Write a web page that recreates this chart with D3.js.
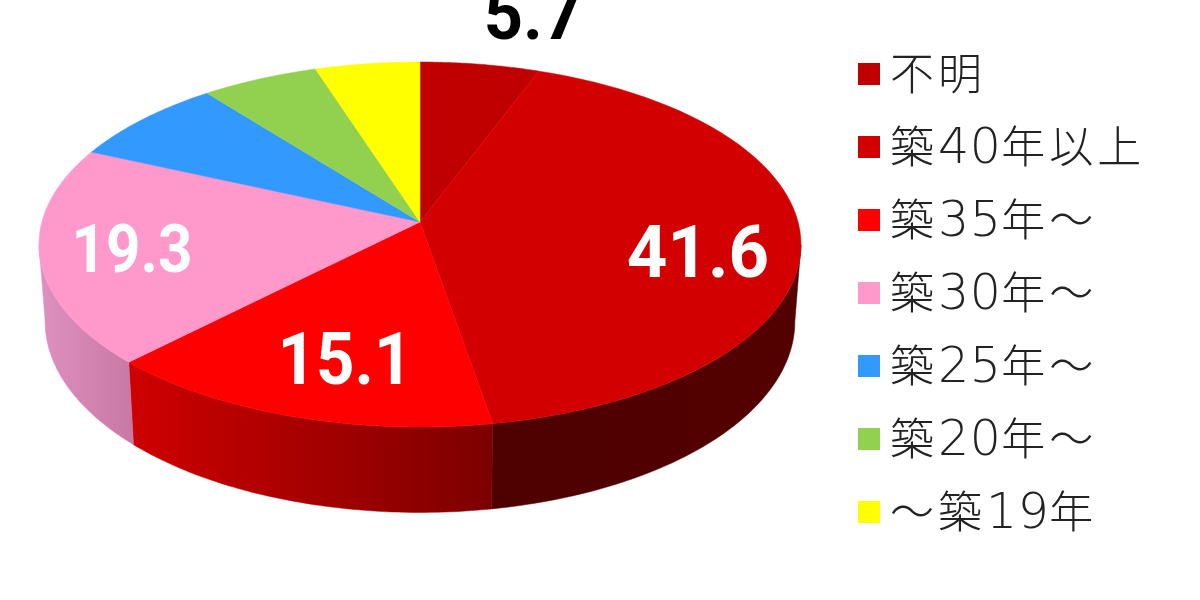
<!DOCTYPE html>
<html><head><meta charset="utf-8">
<style>html,body{margin:0;padding:0;background:#fff;overflow:hidden}svg{display:block}</style>
<script src="https://cdn.jsdelivr.net/npm/d3@7"></script></head><body>
<svg id="c" width="1200" height="600"></svg>
<script>
const categories=["不明","築40年以上","築35年～","築30年～","築25年～","築20年～","～築19年"];
const values=[5.7,41.6,15.1,19.3,7.7,5.6,5.0];
const labels=["5.7","41.6","15.1","19.3","","",""];
const colors=["#c00000","#d20000","#ff0000","#ff99cc","#3399ff","#92d050","#ffff00"];
const wallStops=[null,[["0","#4f0000"],["1","#530000"]],[["0","#cf0000"],["1","#7c0000"]],[["0","#de90bf"],["1","#c878a4"]],null,null,null];
const labelX=[533,698,345,132];
const labelY=[39,277,384,272];
const labelFill=["#000","#fff","#fff","#fff"];
const labelSize=[73,73,73,66];
const labelStretch=[0.94,0.97,0.92,0.91];

const svg=d3.select("#c");
const defs=svg.append("defs");
defs.append("filter").attr("id","soft").append("feGaussianBlur").attr("stdDeviation",0.6);
const k=0.1233;
const upper={cx:420,cy:222,a:378.1,b:179.7};
const lower={cx:420,cy:298,a:372,b:188};
const proj=(p,t)=>{const u=Math.sin(t),v=-Math.cos(t),w=1-k*v;return [p.cx+p.a*u/w,p.cy+p.b*v/w];};
const arcs=d3.pie().sort(null)(values);
const sample=(p,t0,t1)=>d3.range(0,61).map(i=>proj(p,t0+(t1-t0)*i/60));
const line=d3.line();
const limit=Math.acos(-k);
const g=svg.append("g").attr("filter","url(#soft)");

arcs.forEach((d,i)=>{
  if(!wallStops[i])return;
  const t0=Math.max(d.startAngle,limit),t1=Math.min(d.endAngle,2*Math.PI-limit);
  if(t1<=t0)return;
  const up=sample(upper,t0,t1),dn=sample(lower,t0,t1).reverse();
  const xs=up.concat(dn).map(q=>q[0]);
  const id="w"+i;
  const lg=defs.append("linearGradient").attr("id",id).attr("gradientUnits","userSpaceOnUse")
    .attr("x1",d3.min(xs)).attr("x2",d3.max(xs)).attr("y1",0).attr("y2",0);
  wallStops[i].forEach(s=>lg.append("stop").attr("offset",s[0]).attr("stop-color",s[1]));
  g.append("path").attr("d",line(up.concat(dn))+"Z").attr("fill",`url(#${id})`)
   .attr("stroke",`url(#${id})`).attr("stroke-width",0.5);
});
arcs.forEach((d,i)=>{
  const pts=[[upper.cx,upper.cy]].concat(sample(upper,d.startAngle,d.endAngle));
  g.append("path").attr("d",line(pts)+"Z").attr("fill",colors[i]).attr("stroke",colors[i]).attr("stroke-width",0.5);
});
const font="'Roboto','Liberation Sans',sans-serif";
labels.forEach((t,i)=>{
  if(!t)return;
  g.append("text").attr("transform",`translate(${labelX[i]},${labelY[i]}) scale(${labelStretch[i]},1)`)
   .attr("text-anchor","middle").attr("font-family",font).attr("font-weight",700)
   .attr("font-size",labelSize[i]).attr("fill",labelFill[i]).text(t);
});
const ly=d3.scalePoint().domain(categories).range([74,512]);
categories.forEach((c,i)=>{
  const y=ly(c);
  g.append("rect").attr("x",858).attr("y",y-11).attr("width",22).attr("height",22).attr("fill",colors[i]);
  const tx=g.append("text").attr("x",890).attr("y",y+16).attr("font-family","'Noto Sans CJK JP'").attr("font-weight",200)
   .attr("font-size",44).attr("fill","#222");
  c.match(/\d+|\D+/g).forEach(run=>{
    const digits=/\d/.test(run);
    const s=tx.append("tspan").attr("letter-spacing",digits?0.5:4).text(run);
    if(digits)s.attr("font-family","'DejaVu Sans Light','DejaVu Sans'").attr("font-weight",200).attr("font-size",49);
  });
});
</script></body></html>
